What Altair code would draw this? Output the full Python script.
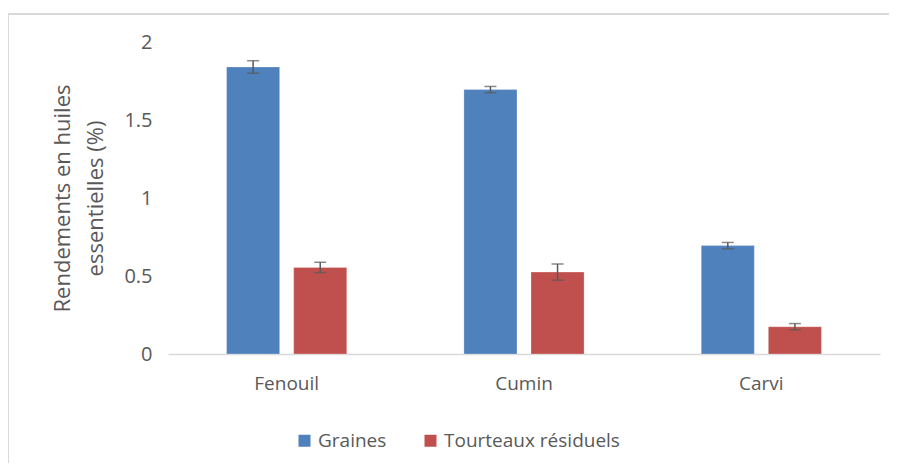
import altair as alt
import pandas as pd

categories = ["Fenouil", "Cumin", "Carvi"]
series = ["Graines", "Tourteaux résiduels"]
graines = [1.84, 1.695, 0.695]
graines_err = [0.04, 0.02, 0.02]
tourteaux = [0.555, 0.525, 0.175]
tourteaux_err = [0.033, 0.052, 0.02]

rows = []
for c, v, e in zip(categories, graines, graines_err):
    rows.append({"cat": c, "serie": series[0], "val": v, "lo": v - e, "hi": v + e})
for c, v, e in zip(categories, tourteaux, tourteaux_err):
    rows.append({"cat": c, "serie": series[1], "val": v, "lo": v - e, "hi": v + e})
df = pd.DataFrame(rows)

FONT = "Open Sans"
TXT = "#595959"

x = alt.X("cat:N", sort=categories, title=None,
          scale=alt.Scale(paddingInner=0, paddingOuter=0),
          axis=alt.Axis(labelAngle=0, labelFontSize=19, labelColor=TXT, labelFont=FONT,
                        labelPadding=20, ticks=False, domainColor="#D9D9D9", domainWidth=1.5))
xo = alt.XOffset("serie:N", sort=series,
                 scale=alt.Scale(paddingInner=0.209, paddingOuter=0.873))

bars = alt.Chart(df).mark_bar(stroke="white", strokeOpacity=0.25, strokeWidth=1).encode(
    x=x, xOffset=xo,
    y=alt.Y("val:Q", scale=alt.Scale(domain=[0, 2]),
            title=["Rendements en huiles", "essentielles (%)"],
            axis=alt.Axis(values=[0, 0.5, 1, 1.5, 2], format="~g", labelFontSize=20, labelColor=TXT,
                          labelFont=FONT, labelPadding=16, ticks=False, domain=False, grid=False,
                          titleFontSize=22, titleColor=TXT, titleFont=FONT, titleLineHeight=33,
                          titleFontWeight="normal", titlePadding=16)),
    color=alt.Color("serie:N", sort=series,
                    scale=alt.Scale(domain=series, range=["#4F81BD", "#C0504D"]),
                    legend=alt.Legend(title=None, orient="none", direction="horizontal",
                                      legendX=127, legendY=389,
                                      symbolType="square", symbolSize=144, symbolStrokeWidth=0,
                                      labelFontSize=19, labelColor=TXT, labelFont=FONT,
                                      labelLimit=400, columnPadding=34)),
)

err = alt.Chart(df).mark_rule(color=TXT, strokeWidth=1.5).encode(
    x=alt.X("cat:N", sort=categories), xOffset=xo,
    y="lo:Q", y2="hi:Q")
caps_lo = alt.Chart(df).mark_tick(color=TXT, thickness=1.5, size=12).encode(
    x=alt.X("cat:N", sort=categories), xOffset=xo, y="lo:Q")
caps_hi = alt.Chart(df).mark_tick(color=TXT, thickness=1.5, size=12).encode(
    x=alt.X("cat:N", sort=categories), xOffset=xo, y="hi:Q")

frame_left = alt.Chart(df).mark_rule(color="#D9D9D9", strokeWidth=1.5, clip=False).encode(
    x=alt.value(-160), y=alt.value(-28), y2=alt.value(440))
frame_top = alt.Chart(df).mark_rule(color="#D9D9D9", strokeWidth=1.5, clip=False).encode(
    x=alt.value(-160), x2=alt.value(740), y=alt.value(-28))

chart = alt.layer(frame_left, frame_top, bars, err, caps_lo, caps_hi).properties(
    width=712, height=312,
    autosize=alt.AutoSizeParams(type="none"),
    padding={"left": 160, "top": 34, "right": 9, "bottom": 109},
    background="white",
).configure_view(stroke=None)

chart.save("out.html", embed_options={"renderer": "svg", "actions": False})
